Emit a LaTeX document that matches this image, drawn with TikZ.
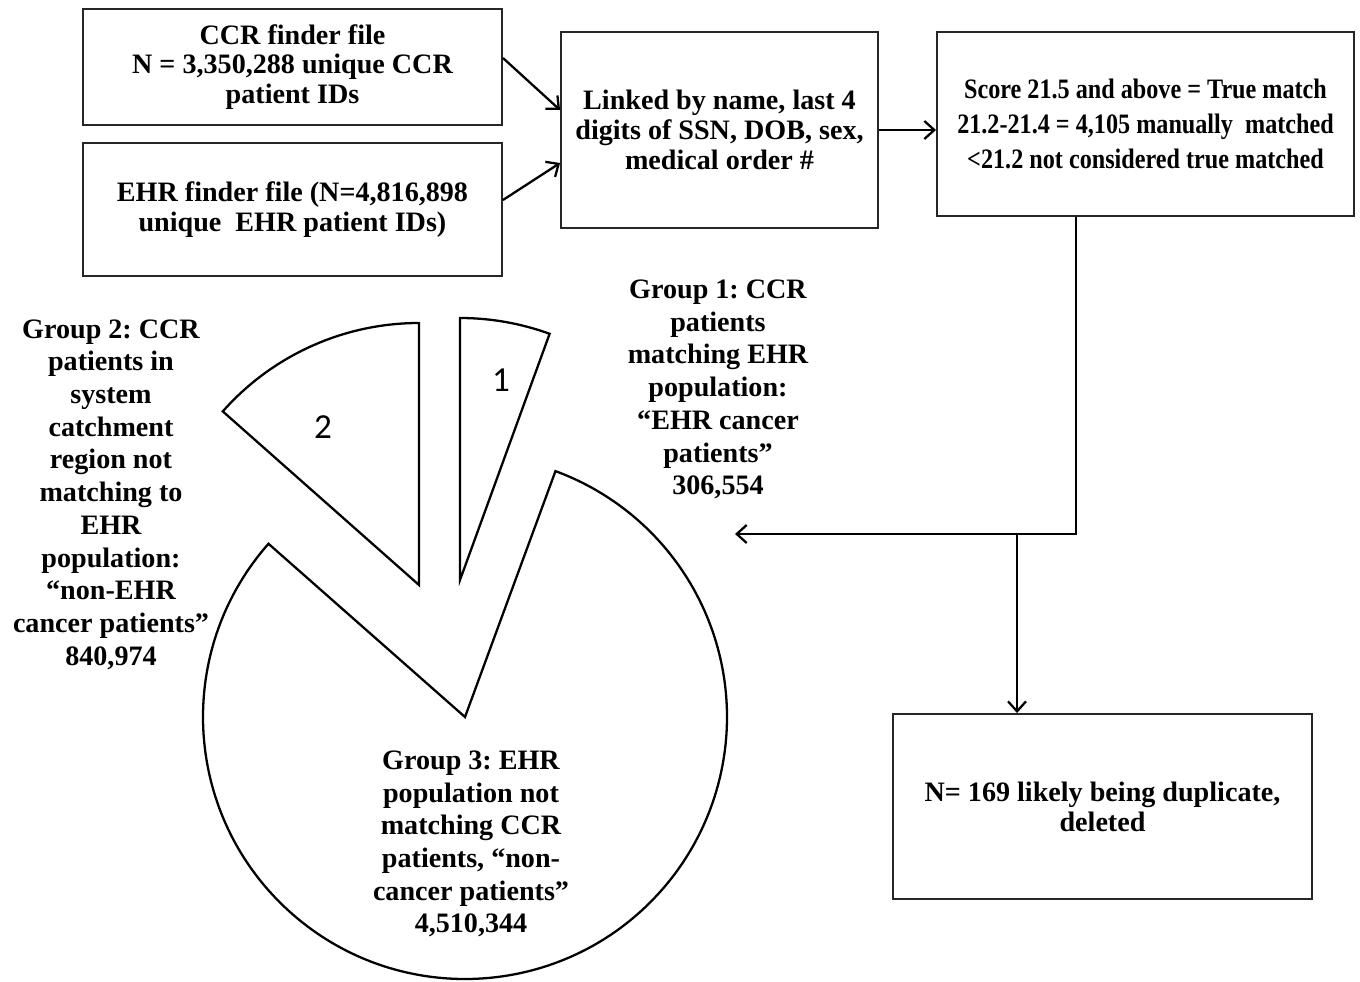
\documentclass[tikz,border=0pt]{standalone}
\usepackage{fontspec}
\setmainfont{Liberation Serif}
\newfontfamily\numfont{Carlito}
\newfontfamily\narrowfont{Liberation Serif}[FakeStretch=0.86]
\usetikzlibrary{arrows.meta,calc,positioning}
\frenchspacing

\begin{document}
\begin{tikzpicture}[x=0.2mm, y=-0.2mm, >={Straight Barb[length=2mm,width=3.6mm]},
 block/.style = {draw=black!85, line width=1.1pt, rectangle, align=center, inner sep=0pt,
                 font=\bfseries\fontsize{16}{17}\selectfont},
 grouptext/.style = {align=center, inner sep=0pt, font=\bfseries\fontsize{16}{18.6}\selectfont},
 slice/.style = {draw, line width=1.3pt},
 slicenum/.style = {font=\numfont\fontsize{20}{20}\selectfont},
 link/.style = {draw, line width=1.3pt},
                        ]
    \useasboundingbox (0,0) rectangle (1360,981);

    \node [block, minimum width=83.8mm, minimum height=23.2mm] (ccr)    at (292.5,67)   {CCR finder file\\ N = 3,350,288 unique CCR\\ patient IDs};
    \node [block, minimum width=83.8mm, minimum height=26.6mm] (ehr)    at (292.5,209.5) {EHR finder file (N=4,816,898\\ unique\ \ EHR patient IDs)};
    \node [block, minimum width=63.4mm, minimum height=39.2mm] (linked) at (719.5,130)  {Linked by name, last 4\\ digits of SSN, DOB, sex,\\ medical order \#};
    \node [block, minimum width=83.4mm, minimum height=36.8mm,
           font=\narrowfont\bfseries\fontsize{16}{19.9}\selectfont] (score) at (1145.5,124) {Score 21.5 and\ above = True match\\ 21.2-21.4 = 4,105 manually\ \ matched\\ <21.2 not considered true matched};
    \node [block, minimum width=83.8mm, minimum height=37mm]   (dup)    at (1102.5,806.5) {N= 169 likely being duplicate,\\ deleted};

%% pie
    \draw[slice] (465,717) -- ++(138.6:52.4mm) arc[start angle=138.6, end angle=429.8, radius=52.4mm] -- cycle;
    \draw[slice] (460,580) -- ++(70:52.4mm)    arc[start angle=70,    end angle=90,    radius=52.4mm] -- cycle;
    \draw[slice] (419,585) -- ++(90:52.4mm)    arc[start angle=90,    end angle=138.5, radius=52.4mm] -- cycle;
    \node [slicenum] (one) at (501,380) {1};
    \node [slicenum] (two) at (323,427) {2};

    \node [grouptext] (grp1) at (718,389.5) {Group 1: CCR\\ patients\\ matching EHR\\ population:\\ “EHR cancer\\ patients”\\ 306,554};
    \node [grouptext] (grp2) at (111,494.5) {Group 2: CCR\\ patients in\\ system\\ catchment\\ region not\\ matching to\\ EHR\\ population:\\ “non-EHR\\ cancer patients”\\ 840,974};
    \node [grouptext] (grp3) at (471,844)   {Group 3: EHR\\ population not\\ matching CCR\\ patients, “non-\\ cancer patients”\\ 4,510,344};

%% paths
    \coordinate (bend)  at (1076,534);
    \coordinate (split) at (1017,534);
    \coordinate (g1end) at (735,534);
    \path[link] ($(ccr.east)+(0,-9)$)   edge[->] ($(linked.west)+(0,-20)$)
                ($(ehr.east)+(0,-9.5)$) edge[->] ($(linked.west)+(0,33)$)
                (linked.east)           edge[->] (linked.east -| score.west)
                ;
    \draw[link,->] (score.south -| bend) -- (bend) -- (g1end);
    \draw[link,->] (split) -- (split |- dup.north);
    \end{tikzpicture}
\end{document}
